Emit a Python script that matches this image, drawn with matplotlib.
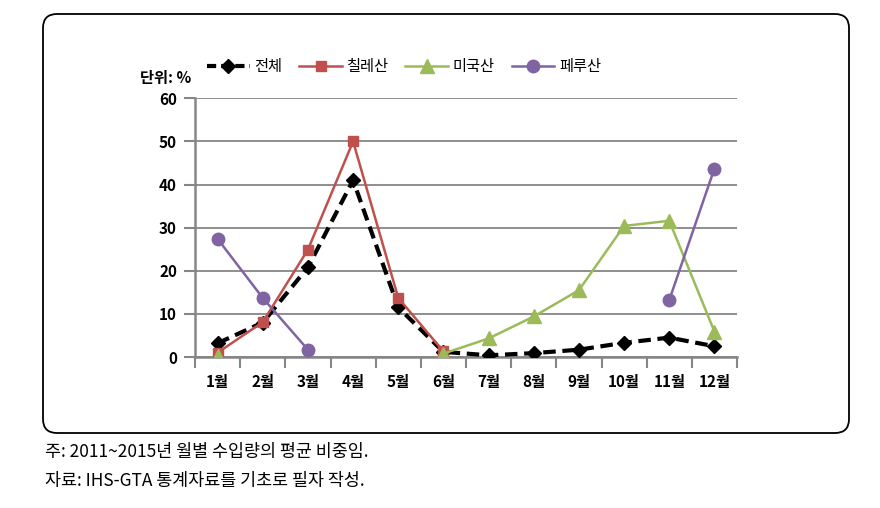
import numpy as np
import matplotlib
matplotlib.use("Agg")
import matplotlib.pyplot as plt
from matplotlib.patches import FancyBboxPatch
from matplotlib.transforms import IdentityTransform

plt.rcParams['font.family'] = ['Noto Sans CJK KR', 'DejaVu Sans']

months = ['1월', '2월', '3월', '4월', '5월', '6월', '7월', '8월', '9월', '10월', '11월', '12월']
total = [3.2, 8.0, 20.8, 41.0, 11.5, 1.2, 0.4, 0.9, 1.7, 3.3, 4.5, 2.5]
chile = [1.0, 8.1, 24.9, 50.0, 13.7, 1.3, np.nan, np.nan, np.nan, np.nan, np.nan, np.nan]
usa = [0.3, np.nan, np.nan, np.nan, np.nan, 0.8, 4.3, 9.4, 15.5, 30.4, 31.6, 5.9]
peru = [27.4, 13.7, 1.7, np.nan, np.nan, np.nan, np.nan, np.nan, np.nan, np.nan, 13.2, 43.7]
yticks = [0, 10, 20, 30, 40, 50, 60]

fig = plt.figure(figsize=(8.8, 5.08), dpi=100)

box = FancyBboxPatch((43, 75), 806, 419, boxstyle="round,pad=0,rounding_size=14",
                     transform=IdentityTransform(), facecolor='none', edgecolor='black',
                     linewidth=1.3, zorder=-1)
fig.patches.append(box)

ax = fig.add_axes([0.2216, 0.2972, 0.6159, 0.5093])
ax.set_facecolor('none')
x = np.arange(len(months))

ax.plot(x, total, color='black', linestyle=(0, (3, 1.6)), linewidth=3, marker='D',
        markersize=7.5, label='전체', zorder=3)
ax.plot(x, chile, color='#C0504D', linewidth=1.8, marker='s', markersize=7.5,
        label='칠레산', zorder=4)
ax.plot(x, usa, color='#9BBB59', linewidth=1.8, marker='^', markersize=9.5,
        label='미국산', zorder=5)
ax.plot(x, peru, color='#8064A2', linewidth=1.8, marker='o', markersize=9,
        label='페루산', zorder=6)

ax.set_xlim(-0.5, 11.5)
ax.set_ylim(0, 60)
ax.set_yticks(yticks)
ax.set_xticks(x)
ax.set_xticklabels(months, fontsize=11, fontweight='bold')
ax.set_yticklabels([str(v) for v in yticks], fontsize=11, fontweight='bold')
ax.set_xticks(np.arange(-0.5, 12, 1), minor=True)
ax.tick_params(axis='x', which='major', length=0, pad=12)
ax.tick_params(axis='x', which='minor', length=8, width=1.5, color='#868686', direction='out')
ax.tick_params(axis='y', length=8, width=1.5, color='#868686', direction='out', pad=5)
ax.grid(axis='y', color='#868686', linewidth=1.3)
ax.set_axisbelow(True)
for s in ['top', 'right']:
    ax.spines[s].set_visible(False)
for s in ['left', 'bottom']:
    ax.spines[s].set_color('#868686')
    ax.spines[s].set_linewidth(1.8)

leg = fig.legend(loc='center', bbox_to_anchor=(404 / 880, 1 - 67 / 508), ncol=4, frameon=False,
                 fontsize=11, handlelength=2.8, columnspacing=1.1, handletextpad=0.3)
leg.get_lines()[0].set_linestyle((0, (2.2, 1.2)))

fig.text(166 / 880, 1 - 78 / 508, '단위: %', fontsize=11, fontweight='bold', ha='center', va='center')

fig.text(45 / 880, 1 - 452 / 508, '주: 2011~2015년 월별 수입량의 평균 비중임.', fontsize=12.5, va='center')
fig.text(45 / 880, 1 - 481 / 508, '자료: IHS-GTA 통계자료를 기초로 필자 작성.', fontsize=12.5, va='center')

fig.savefig('out.png', dpi=100)
